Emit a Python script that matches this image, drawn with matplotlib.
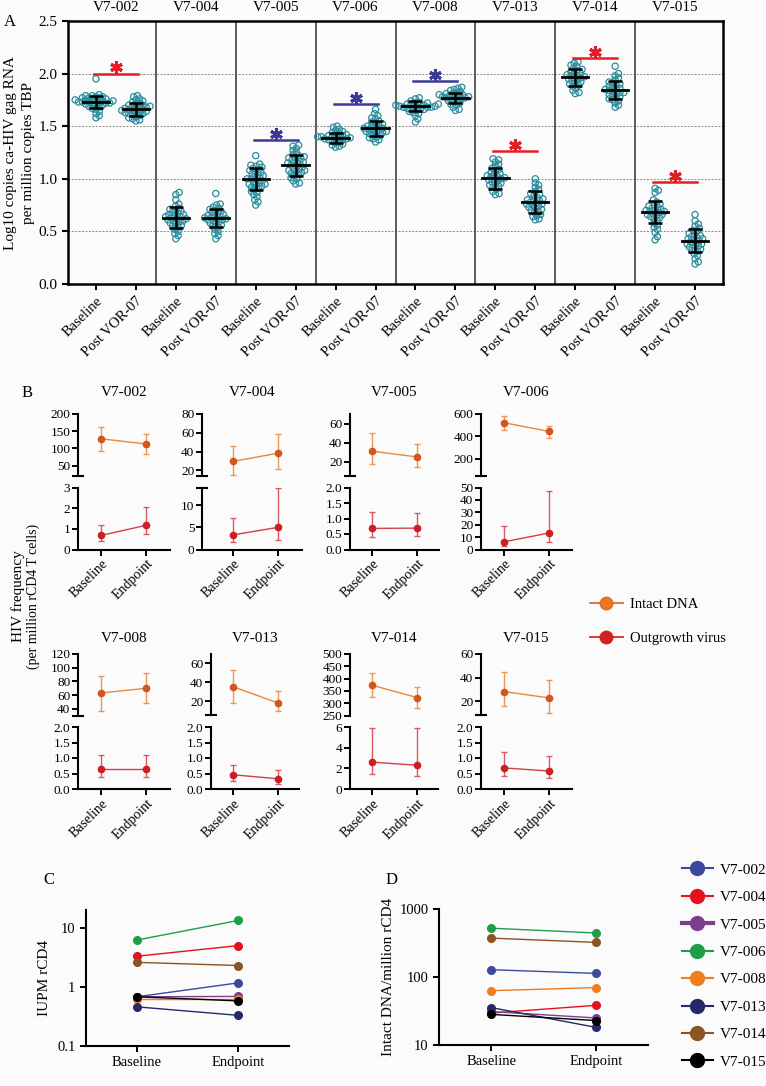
import numpy as np
import matplotlib
matplotlib.use("Agg")
import matplotlib.pyplot as plt
from matplotlib.lines import Line2D
from matplotlib.ticker import FormatStrFormatter, NullLocator

plt.rcParams['font.family'] = ['Liberation Serif', 'DejaVu Serif']

# ---------------- data ----------------
subjects = ['V7-002', 'V7-004', 'V7-005', 'V7-006', 'V7-008', 'V7-013', 'V7-014', 'V7-015']
a_cats = ['Baseline', 'Post VOR-07']

# panel A: log10 ca-HIV gag RNA, replicate values per subject
a_base = [
    [1.95, 1.80, 1.79, 1.78, 1.78, 1.77, 1.76, 1.76, 1.75, 1.75, 1.74, 1.74, 1.74, 1.73, 1.73, 1.73, 1.72,
     1.72, 1.72, 1.71, 1.71, 1.70, 1.70, 1.69, 1.68, 1.67, 1.66, 1.64, 1.62, 1.60, 1.58, 1.79, 1.77, 1.75],
    [0.87, 0.85, 0.80, 0.76, 0.74, 0.72, 0.71, 0.70, 0.69, 0.68, 0.67, 0.66, 0.65, 0.64, 0.64, 0.63, 0.62,
     0.62, 0.61, 0.60, 0.59, 0.58, 0.57, 0.56, 0.55, 0.54, 0.52, 0.50, 0.48, 0.46, 0.43, 0.66, 0.60],
    [1.22, 1.14, 1.13, 1.12, 1.11, 1.10, 1.09, 1.08, 1.06, 1.05, 1.04, 1.03, 1.02, 1.01, 1.00, 0.99, 0.98,
     0.97, 0.96, 0.95, 0.94, 0.93, 0.92, 0.91, 0.90, 0.88, 0.87, 0.85, 0.83, 0.80, 0.78, 0.75, 1.07, 1.00, 0.95],
    [1.50, 1.49, 1.47, 1.46, 1.45, 1.44, 1.43, 1.42, 1.42, 1.41, 1.41, 1.40, 1.40, 1.39, 1.39, 1.38, 1.38,
     1.37, 1.37, 1.36, 1.35, 1.34, 1.33, 1.32, 1.31, 1.30, 1.40, 1.38],
    [1.77, 1.76, 1.74, 1.73, 1.72, 1.72, 1.71, 1.71, 1.70, 1.70, 1.70, 1.69, 1.69, 1.68, 1.68, 1.68, 1.67,
     1.67, 1.66, 1.66, 1.65, 1.64, 1.63, 1.62, 1.60, 1.57, 1.54, 1.69, 1.70],
    [1.19, 1.18, 1.16, 1.14, 1.12, 1.10, 1.09, 1.08, 1.06, 1.05, 1.04, 1.03, 1.02, 1.01, 1.00, 0.99, 0.98,
     0.97, 0.96, 0.95, 0.94, 0.93, 0.92, 0.90, 0.88, 0.86, 0.85, 1.02, 1.00],
    [2.11, 2.10, 2.08, 2.07, 2.05, 2.04, 2.03, 2.02, 2.01, 2.00, 1.99, 1.98, 1.97, 1.96, 1.95, 1.94, 1.93,
     1.92, 1.91, 1.90, 1.89, 1.88, 1.86, 1.84, 1.82, 1.81, 1.98, 1.96],
    [0.91, 0.89, 0.87, 0.80, 0.78, 0.76, 0.75, 0.74, 0.73, 0.72, 0.71, 0.70, 0.69, 0.69, 0.68, 0.67, 0.66,
     0.65, 0.64, 0.63, 0.62, 0.60, 0.58, 0.56, 0.54, 0.52, 0.49, 0.45, 0.42, 0.70, 0.66],
]
a_post = [
    [1.79, 1.78, 1.76, 1.75, 1.74, 1.73, 1.72, 1.71, 1.70, 1.70, 1.69, 1.68, 1.68, 1.67, 1.67, 1.66, 1.66,
     1.65, 1.65, 1.64, 1.64, 1.63, 1.62, 1.62, 1.61, 1.60, 1.59, 1.58, 1.57, 1.56, 1.55, 1.63, 1.69],
    [0.86, 0.76, 0.75, 0.73, 0.72, 0.71, 0.70, 0.69, 0.68, 0.67, 0.66, 0.65, 0.64, 0.63, 0.63, 0.62, 0.62,
     0.61, 0.60, 0.59, 0.58, 0.57, 0.56, 0.55, 0.54, 0.52, 0.50, 0.48, 0.46, 0.43, 0.65, 0.61],
    [1.32, 1.31, 1.29, 1.27, 1.25, 1.23, 1.22, 1.21, 1.20, 1.19, 1.18, 1.17, 1.16, 1.15, 1.14, 1.13, 1.12,
     1.11, 1.10, 1.09, 1.08, 1.07, 1.06, 1.05, 1.04, 1.03, 1.01, 1.00, 0.98, 0.96, 0.95, 1.20, 1.15, 1.08],
    [1.66, 1.62, 1.60, 1.58, 1.57, 1.55, 1.54, 1.53, 1.52, 1.51, 1.50, 1.50, 1.49, 1.48, 1.48, 1.47, 1.46,
     1.45, 1.45, 1.44, 1.43, 1.42, 1.41, 1.40, 1.39, 1.38, 1.37, 1.35, 1.47, 1.44],
    [1.87, 1.86, 1.85, 1.84, 1.83, 1.82, 1.81, 1.80, 1.80, 1.79, 1.79, 1.78, 1.78, 1.77, 1.77, 1.76, 1.76,
     1.75, 1.74, 1.73, 1.72, 1.71, 1.70, 1.68, 1.66, 1.65, 1.78, 1.81],
    [1.00, 0.96, 0.94, 0.92, 0.90, 0.88, 0.86, 0.85, 0.84, 0.82, 0.81, 0.80, 0.79, 0.78, 0.77, 0.76, 0.75,
     0.74, 0.73, 0.72, 0.71, 0.70, 0.69, 0.68, 0.66, 0.65, 0.64, 0.62, 0.61, 0.80, 0.76],
    [2.07, 2.00, 1.98, 1.96, 1.94, 1.92, 1.91, 1.90, 1.89, 1.88, 1.87, 1.86, 1.85, 1.84, 1.83, 1.82, 1.81,
     1.80, 1.79, 1.78, 1.77, 1.76, 1.75, 1.74, 1.72, 1.70, 1.68, 1.85, 1.82],
    [0.66, 0.60, 0.57, 0.55, 0.53, 0.51, 0.50, 0.48, 0.47, 0.46, 0.45, 0.44, 0.43, 0.42, 0.41, 0.40, 0.39,
     0.38, 0.37, 0.36, 0.35, 0.34, 0.33, 0.32, 0.31, 0.29, 0.27, 0.24, 0.21, 0.19, 0.43, 0.38],
]
a_mean_base = [1.73, 0.63, 1.00, 1.39, 1.69, 1.005, 1.965, 0.684]
a_sd_base = [0.06, 0.10, 0.105, 0.05, 0.05, 0.10, 0.08, 0.105]
a_mean_post = [1.66, 0.63, 1.13, 1.48, 1.77, 0.777, 1.84, 0.41]
a_sd_post = [0.06, 0.085, 0.10, 0.07, 0.05, 0.105, 0.085, 0.11]
# significance bars: (colour key, level) or None
a_sig = [('r', 2.0), None, ('b', 1.37), ('b', 1.71), ('b', 1.93), ('r', 1.26), ('r', 2.15), ('r', 0.967)]

# panel B: intact DNA and outgrowth virus, point + CI
b_cats = ['Baseline', 'Endpoint']
intact_base = [128, 29.5, 31, 522, 63, 35.5, 373, 28.2]
intact_base_lo = [94, 15.4, 18, 460, 36.8, 18.2, 324, 16.1]
intact_base_hi = [162, 45.6, 50, 579, 88, 53, 421, 44.9]
intact_end = [113, 38.3, 25, 444, 69.8, 18.2, 323, 22.9]
intact_end_lo = [84, 21.4, 14.2, 387, 49, 9.5, 282, 10.2]
intact_end_hi = [142, 58.3, 39, 495, 92.2, 30.8, 364, 37.7]
outg_base = [0.68, 3.3, 0.68, 6.2, 0.63, 0.46, 2.6, 0.68]
outg_base_lo = [0.40, 1.8, 0.40, 3.0, 0.38, 0.26, 1.44, 0.41]
outg_base_hi = [1.19, 7.1, 1.20, 18.9, 1.09, 0.78, 5.9, 1.18]
outg_end = [1.17, 5.0, 0.69, 13.3, 0.63, 0.33, 2.3, 0.58]
outg_end_lo = [0.75, 2.25, 0.43, 5.7, 0.38, 0.17, 1.29, 0.35]
outg_end_hi = [2.08, 13.8, 1.18, 47.3, 1.09, 0.60, 5.9, 1.05]

top_lims = [(20, 200), (14, 80), (5, 70), (45, 600), (30, 120), (5, 70), (250, 500), (8, 60)]
top_ticks = [[50, 100, 150, 200], [20, 40, 60, 80], [20, 40, 60], [200, 400, 600],
             [40, 60, 80, 100, 120], [20, 40, 60], [250, 300, 350, 400, 450, 500], [20, 40, 60]]
bot_lims = [(0, 3), (0, 14), (0, 2), (0, 50), (0, 2), (0, 2), (0, 6), (0, 2)]
bot_ticks = [[0, 1, 2, 3], [0, 5, 10], [0, 0.5, 1, 1.5, 2], [0, 10, 20, 30, 40, 50],
             [0, 0.5, 1, 1.5, 2], [0, 0.5, 1, 1.5, 2], [0, 2, 4, 6], [0, 0.5, 1, 1.5, 2]]

# panels C and D reuse the B point estimates
subj_colors = ['#3b4a9c', '#e3121e', '#7b3f8e', '#1f9e4a', '#f07c1e', '#25296b', '#8a5424', '#000000']

# ---------------- figure ----------------
W, H = 766, 1086
fig = plt.figure(figsize=(W / 100, H / 100), dpi=100)
fig.patch.set_facecolor('#fbfbfb')


def px_axes(l, t, r, b):
    ax = fig.add_axes([l / W, 1 - b / H, (r - l) / W, (b - t) / H])
    ax.set_facecolor('none')
    return ax


def ftext(x, y, s, **kw):
    fig.text(x / W, 1 - y / H, s, **kw)


def swarm(vals, dpx, ypx):
    # simple beeswarm offsets (in pixels), circles may overlap a bit
    vals = np.asarray(vals)
    xs = np.zeros(len(vals))
    placed = []
    for i in np.argsort(vals):
        y = vals[i] * ypx
        cands = [0.0]
        for px, py in placed:
            dy = y - py
            if abs(dy) < dpx:
                dx = np.sqrt(dpx ** 2 - dy ** 2)
                cands += [px + dx, px - dx]
        cands.sort(key=abs)
        for c in cands:
            if all((c - px) ** 2 + (y - py) ** 2 >= dpx ** 2 - 1e-6 for px, py in placed):
                xs[i] = c
                break
        placed.append((xs[i], y))
    return xs


# ----- panel A -----
axA = px_axes(68, 21, 723, 284)
axA.set_xlim(-0.70, 15.70)
axA.set_ylim(0, 2.5)
ppx = 655 / 16.4
ppy = 263 / 2.5
teal = '#2b8d9d'
sigcol = {'r': '#e21d25', 'b': '#3c3a96'}
for i in range(8):
    for j, (vals, m, sd) in enumerate([(a_base[i], a_mean_base[i], a_sd_base[i]),
                                        (a_post[i], a_mean_post[i], a_sd_post[i])]):
        x0 = 2 * i + j
        off = swarm(vals, 3.9, ppy) / ppx
        axA.scatter(x0 + off, vals, s=20, facecolors='none', edgecolors=teal, linewidths=0.9, zorder=3)
        axA.plot([x0 - 0.33, x0 + 0.33], [m, m], color='black', lw=2, zorder=4)
        axA.errorbar([x0], [m], yerr=[sd], fmt='none', ecolor='black', elinewidth=1.8,
                     capsize=5, capthick=1.8, zorder=4)
    if a_sig[i] is not None:
        c, lev = a_sig[i]
        axA.plot([2 * i - 0.05, 2 * i + 1.05], [lev, lev], color=sigcol[c], lw=1.8, zorder=4)
        axA.plot([2 * i + 0.5], [lev + 0.058], marker=(6, 2, 0), ms=9, mew=2.2,
                 color=sigcol[c], zorder=4)
    axA.text(2 * i + 0.5, 1.05, subjects[i], transform=axA.get_xaxis_transform(),
             ha='center', va='center', fontsize=11)
for i in range(7):
    axA.axvline(2 * i + 1.5, color='#333333', lw=1.1, zorder=2)
axA.set_yticks([0, 0.5, 1.0, 1.5, 2.0, 2.5])
axA.yaxis.set_major_formatter(FormatStrFormatter('%.1f'))
axA.yaxis.grid(True, linestyle=(0, (2, 1.5)), color='#8a8a8a', lw=0.7)
axA.set_axisbelow(True)
axA.set_xticks(np.arange(16))
axA.set_xticklabels(a_cats * 8, rotation=45, ha='right', va='top', rotation_mode='anchor', fontsize=10.5)
axA.tick_params(axis='both', direction='out', length=4, width=1.5, labelsize=10.5)
axA.tick_params(axis='y', labelsize=11)
for s in axA.spines.values():
    s.set_linewidth(1.8)
ftext(4, 22, 'A', fontsize=12, va='center')
ftext(11, 153, 'Log10 copies ca-HIV gag RNA', rotation=90, ha='center', va='center', fontsize=11)
ftext(29, 153, 'per million copies TBP', rotation=90, ha='center', va='center', fontsize=11)

# ----- panel B -----
b_left = [78, 202, 350, 481, 78, 211, 350, 481]
b_right = [170, 302, 439, 572, 170, 299, 438, 572]
b_xoff = [23, 31, 22, 23, 23, 22, 22, 23]
rows = [((414, 476), (487.5, 549.5), 393), ((654, 715.5), (727, 789), 639)]
intact_line, intact_pt, intact_err = '#e8893a', '#d4561f', '#eb9a55'
outg_line, outg_pt, outg_err = '#d0404a', '#cc1f24', '#d85a64'

for i in range(8):
    (tt, tb), (bt, bb), ty = rows[i // 4]
    l, r, xo = b_left[i], b_right[i], b_xoff[i]
    xl = (-xo / 45, (r - l - xo) / 45)
    at = px_axes(l, tt, r, tb)
    ab = px_axes(l, bt, r, bb)
    for ax, mid, lo, hi, lc, pc, ec in [
            (at, (intact_base[i], intact_end[i]), (intact_base_lo[i], intact_end_lo[i]),
             (intact_base_hi[i], intact_end_hi[i]), intact_line, intact_pt, intact_err),
            (ab, (outg_base[i], outg_end[i]), (outg_base_lo[i], outg_end_lo[i]),
             (outg_base_hi[i], outg_end_hi[i]), outg_line, outg_pt, outg_err)]:
        mid = np.array(mid)
        ax.errorbar([0, 1], mid, yerr=[mid - np.array(lo), np.array(hi) - mid], fmt='none',
                    ecolor=ec, elinewidth=1, capsize=2.5, capthick=1)
        ax.plot([0, 1], mid, color=lc, lw=1, marker='o', ms=4.5, mfc=pc, mec=pc)
        ax.set_xlim(*xl)
        ax.spines['top'].set_visible(False)
        ax.spines['right'].set_visible(False)
        ax.spines['left'].set_linewidth(1.5)
        ax.spines['bottom'].set_linewidth(1.5)
        ax.tick_params(axis='both', direction='out', length=4, width=1.4, labelsize=9.5, pad=1.5)
        ax.tick_params(axis='y', which='minor', direction='inout', length=8, width=1.5)
    at.set_ylim(*top_lims[i])
    at.set_yticks(top_ticks[i])
    at.set_yticks([top_lims[i][0]], minor=True)
    at.spines['bottom'].set_visible(False)
    at.set_xticks([])
    at.yaxis.set_major_formatter(FormatStrFormatter('%d'))
    ab.set_ylim(*bot_lims[i])
    ab.set_yticks(bot_ticks[i])
    ab.set_yticks([bot_lims[i][1]], minor=True)
    if bot_lims[i][1] == 2:
        ab.yaxis.set_major_formatter(FormatStrFormatter('%.1f'))
    else:
        ab.yaxis.set_major_formatter(FormatStrFormatter('%d'))
    ab.set_xticks([0, 1])
    ab.set_xticklabels(b_cats, rotation=45, ha='right', va='top', rotation_mode='anchor', fontsize=10)
    at.text(0.5, 1 + (tt - ty) / (tb - tt), subjects[i], transform=at.transAxes,
            ha='center', va='center', fontsize=11)

ftext(22, 393, 'B', fontsize=12, va='center')
ftext(18, 596, 'HIV frequency', rotation=90, ha='center', va='center', fontsize=11)
ftext(33, 596, '(per million rCD4 T cells)', rotation=90, ha='center', va='center', fontsize=10)

leg_b = [Line2D([], [], color='#e06a2a', lw=1.3, marker='o', ms=9, mfc='#e87a22', mec='#e06a2a'),
         Line2D([], [], color='#d42a2a', lw=1.3, marker='o', ms=9, mfc='#d42020', mec='#d42020')]
fig.legend(leg_b, ['Intact DNA', 'Outgrowth virus'], loc='upper left',
           bbox_to_anchor=(590 / W, 1 - 598 / H), frameon=False, fontsize=10.5,
           borderpad=0, borderaxespad=0, labelspacing=1.4, handlelength=2.26, handletextpad=0.45)

# ----- panels C and D -----
axC = px_axes(86, 910, 289, 1046)
axD = px_axes(439, 909, 648, 1045)
for ax, b, e, lims, ticks, lab in [
        (axC, outg_base, outg_end, (0.1, 20), [0.1, 1, 10], ['0.1', '1', '10']),
        (axD, intact_base, intact_end, (10, 1000), [10, 100, 1000], ['10', '100', '1000'])]:
    for k in range(8):
        ax.plot([0, 1], [b[k], e[k]], color=subj_colors[k], lw=1, marker='o', ms=5.5)
    ax.set_yscale('log')
    ax.set_ylim(*lims)
    ax.set_yticks(ticks)
    ax.set_yticklabels(lab)
    ax.yaxis.set_minor_locator(NullLocator())
    ax.set_xlim(-0.5, 1.5)
    ax.set_xticks([0, 1])
    ax.set_xticklabels(b_cats)
    ax.spines['top'].set_visible(False)
    ax.spines['right'].set_visible(False)
    ax.spines['left'].set_linewidth(1.5)
    ax.spines['bottom'].set_linewidth(1.5)
    ax.tick_params(axis='both', direction='out', length=4, width=1.4, labelsize=10.5)

ftext(43, 880, 'C', fontsize=12, va='center')
ftext(386, 880, 'D', fontsize=12, va='center')
ftext(45, 978, 'IUPM rCD4', rotation=90, ha='center', va='center', fontsize=11)
ftext(388, 977, 'Intact DNA/million rCD4', rotation=90, ha='center', va='center', fontsize=11)

leg_lw = [1.5, 1.5, 3, 1.5, 1.5, 1.5, 1.5, 1.5]
leg_cd = [Line2D([], [], color=subj_colors[k], lw=leg_lw[k], marker='o', ms=10) for k in range(8)]
fig.legend(leg_cd, subjects, loc='upper left', bbox_to_anchor=(682 / W, 1 - 863 / H),
           frameon=False, fontsize=11, borderpad=0, borderaxespad=0, labelspacing=0.9,
           handlelength=2.0, handletextpad=0.45)

fig.savefig('out.png', dpi=100, facecolor=fig.get_facecolor())
